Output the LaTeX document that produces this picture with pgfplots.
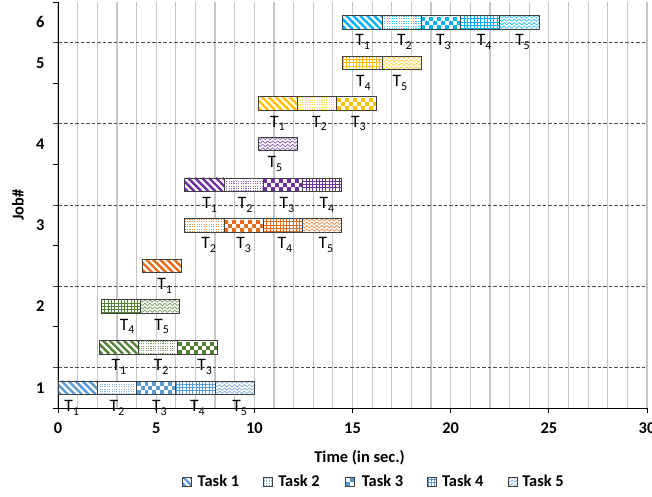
\documentclass[border=0pt]{standalone}
\usepackage{fontspec}
\setmainfont{Carlito}
\usepackage{pgfplots}
\pgfplotsset{compat=1.18}
\usepackage{pgfplotstable}

\definecolor{jobA}{HTML}{5B9BD5}
\definecolor{jobB}{HTML}{548235}
\definecolor{jobC}{HTML}{E36C1B}
\definecolor{jobD}{HTML}{7030A0}
\definecolor{jobE}{HTML}{FFC000}
\definecolor{jobF}{HTML}{00B0F0}
\definecolor{edge}{HTML}{404040}

\newcommand\lblfont{\bfseries\fontsize{16.5}{19}\selectfont}

% box of the current path picture, in canvas coordinates
\newdimen\tqxa \newdimen\tqya \newdimen\tqxb \newdimen\tqyb
\newdimen\tqh \newdimen\tqx \newdimen\tqy \newdimen\tqz
\newcount\tqs
\newcommand\ppbox{\pgftransformreset
  \pgfextractx{\tqxa}{\pgfpointanchor{path picture bounding box}{south west}}%
  \pgfextracty{\tqya}{\pgfpointanchor{path picture bounding box}{south west}}%
  \pgfextractx{\tqxb}{\pgfpointanchor{path picture bounding box}{north east}}%
  \pgfextracty{\tqyb}{\pgfpointanchor{path picture bounding box}{north east}}%
  \tqh=\tqyb \advance\tqh by -\tqya
  \pgfsetdash{}{0pt}\pgfsetbuttcap}

% textures drawn inside the bars (task 1 to task 5)
\newcommand\texA[1]{\ppbox
  \pgfsetcolor{#1}\pgfsetlinewidth{2.4pt}%
  \tqx=\tqxa \advance\tqx by -\tqh \advance\tqx by -4pt
  \loop\ifdim\tqx<\tqxb
    \tqz=\tqx \advance\tqz by \tqh
    \pgfpathmoveto{\pgfqpoint{\tqx}{\tqyb}}\pgfpathlineto{\pgfqpoint{\tqz}{\tqya}}%
    \advance\tqx by 7pt
  \repeat
  \pgfusepath{stroke}}
\newcommand\texB[1]{\ppbox
  \pgfsetcolor{#1!75}\pgfsetlinewidth{1.1pt}\pgfsetdash{{1.1pt}{1.3pt}}{0pt}%
  \tqy=\tqya \advance\tqy by 0.6pt
  \loop\ifdim\tqy<\tqyb
    \pgfpathmoveto{\pgfqpoint{\tqxa}{\tqy}}\pgfpathlineto{\pgfqpoint{\tqxb}{\tqy}}%
    \advance\tqy by 2.4pt
  \repeat
  \pgfusepath{stroke}}
\newcommand\texC[1]{\ppbox
  \pgfsetcolor{#1}\pgfsetlinewidth{4pt}%
  \pgfsetdash{{4pt}{4pt}}{0pt}%
  \tqy=\tqya \advance\tqy by 2pt
  \loop\ifdim\tqy<\tqyb
    \pgfpathmoveto{\pgfqpoint{\tqxa}{\tqy}}\pgfpathlineto{\pgfqpoint{\tqxb}{\tqy}}%
    \advance\tqy by 8pt
  \repeat
  \pgfusepath{stroke}%
  \pgfsetdash{{4pt}{4pt}}{4pt}%
  \tqy=\tqya \advance\tqy by 6pt
  \loop\ifdim\tqy<\tqyb
    \pgfpathmoveto{\pgfqpoint{\tqxa}{\tqy}}\pgfpathlineto{\pgfqpoint{\tqxb}{\tqy}}%
    \advance\tqy by 8pt
  \repeat
  \pgfusepath{stroke}}
\newcommand\texD[1]{\ppbox
  \pgfsetcolor{#1}\pgfsetlinewidth{0.8pt}%
  \tqx=\tqxa \advance\tqx by 0.4pt
  \loop\ifdim\tqx<\tqxb
    \pgfpathmoveto{\pgfqpoint{\tqx}{\tqya}}\pgfpathlineto{\pgfqpoint{\tqx}{\tqyb}}%
    \advance\tqx by 3.3pt
  \repeat
  \tqy=\tqya \advance\tqy by 0.4pt
  \loop\ifdim\tqy<\tqyb
    \pgfpathmoveto{\pgfqpoint{\tqxa}{\tqy}}\pgfpathlineto{\pgfqpoint{\tqxb}{\tqy}}%
    \advance\tqy by 3.3pt
  \repeat
  \pgfusepath{stroke}}
\newcommand\texE[1]{\ppbox
  \pgfsetcolor{#1!80}\pgfsetlinewidth{0.7pt}\pgfsetroundjoin
  \tqy=\tqya \advance\tqy by 0.8pt
  \loop\ifdim\tqy<\tqyb
    {\tqx=\tqxa \advance\tqx by -3pt \tqs=0
     \pgfpathmoveto{\pgfqpoint{\tqx}{\tqy}}%
     \loop\ifdim\tqx<\tqxb
       \advance\tqx by 2.5pt \advance\tqs by 1
       \tqz=\tqy \ifodd\tqs \advance\tqz by 2.4pt \fi
       \pgfpathlineto{\pgfqpoint{\tqx}{\tqz}}%
     \repeat
     \pgfusepath{stroke}}%
    \advance\tqy by 3.4pt
  \repeat}

\tikzset{
  seg/.style={draw=edge, line width=0.7bp, fill=white},
  t1/.style={seg, path picture={\texA{#1}}},
  t2/.style={seg, path picture={\texB{#1}}},
  t3/.style={seg, path picture={\texC{#1}}},
  t4/.style={seg, path picture={\texD{#1}}},
  t5/.style={seg, path picture={\texE{#1}}},
}
\pgfplotsset{
  lsq/.style={legend image code/.code={\path[##1] (0bp,-4.5bp) rectangle (9bp,4.5bp);}},
}

% bar lines of each job: start time and the five task durations
\pgfplotstableread{
row start t1 t2 t3 t4 t5
0 0 2 2 2 2 2
}\jobA
\pgfplotstableread{
row start t1 t2 t3 t4 t5
1 2.1 2 2 2 0 0
2 2.2 0 0 0 2 2
}\jobB
\pgfplotstableread{
row start t1 t2 t3 t4 t5
3 4.3  2 0 0 0 0
4 6.45 0 2 2 2 2
}\jobC
\pgfplotstableread{
row start t1 t2 t3 t4 t5
5 6.45 2 2 2 2 0
6 10.2 0 0 0 0 2
}\jobD
\pgfplotstableread{
row start t1 t2 t3 t4 t5
7 10.2 2 2 2 0 0
8 14.5 0 0 0 2 2
}\jobE
\pgfplotstableread{
row start t1 t2 t3 t4 t5
9 14.5 2 2 2 2 2
}\jobF

% task labels under the bars
\pgfplotstableread{
x row task
0.7 0 1
3.0 0 2
5.17 0 3
7.1 0 4
9.25 0 5
3.1 1 1
5.26 1 2
7.47 1 3
3.52 2 4
5.28 2 5
5.43 3 1
7.67 4 2
9.45 4 3
11.56 4 4
13.65 4 5
7.72 5 1
9.53 5 2
11.66 5 3
13.7 5 4
11.05 6 5
11.18 7 1
13.32 7 2
15.3 7 3
15.55 8 4
17.41 8 5
15.52 9 1
17.64 9 2
19.63 9 3
21.7 9 4
23.66 9 5
}\labels

\pgfplotsset{
  base/.style={scale only axis, width=589bp, height=406bp,
    xmin=0, xmax=30, ymin=-0.5, ymax=9.5, clip=false,
    major grid style={draw=none}},
  jobaxis/.style={base, hide axis, xbar stacked, bar width=13.5bp,
    xtick=\empty, ytick=\empty},
}

\newcommand\jobbars[2]{%
  \begin{axis}[jobaxis]
  \addplot[draw=none, fill=none] table[x=start, y=row]{#1};
  \addplot[t1=#2] table[x=t1, y=row]{#1};
  \addplot[t2=#2] table[x=t2, y=row]{#1};
  \addplot[t3=#2] table[x=t3, y=row]{#1};
  \addplot[t4=#2] table[x=t4, y=row]{#1};
  \addplot[t5=#2] table[x=t5, y=row]{#1};
  \end{axis}}

\begin{document}
\begin{tikzpicture}
% frame: grid, ticks, labels, legend
\begin{axis}[
  base,
  axis x line*=bottom, axis y line*=left,
  axis line style={black, line width=0.9bp},
  tick style={black, line width=0.9bp},
  tick align=outside, major tick length=5bp, minor tick length=0pt,
  xtick={0,5,...,30}, minor xtick={0,1,...,30},
  xminorgrids,
  minor grid style={gray!45, line width=1.2bp},
  ytick={-0.5,0.5,...,9.5}, yticklabels={},
  extra y ticks={0,2,4,6,8,9},
  extra y tick labels={1,2,3,4,5,6},
  extra y tick style={tick style={draw=none}},
  /pgf/number format/assume math mode=true,
  ticklabel style={font=\lblfont},
  yticklabel style={xshift=-5bp},
  xticklabel style={yshift=-6bp},
  xlabel={Time (in sec.)}, ylabel={Job\#},
  label style={font=\lblfont},
  xlabel style={at={(axis description cs:0.512,-0.123)}, anchor=center},
  ylabel style={at={(axis description cs:-0.068,0.5)}, anchor=center},
  legend columns=5,
  legend style={draw=none, fill=none, at={(0.534,-0.182)}, anchor=center,
    font=\lblfont, nodes={inner sep=0pt},
    /tikz/every odd column/.append style={column sep=5bp},
    /tikz/every even column/.append style={column sep=24bp}},
]
\coordinate (BL) at (rel axis cs:0,0);
\pgfplotsinvokeforeach{0.5,2.5,4.5,6.5,8.5}{
  \draw[black!70, line width=1bp, dash pattern=on 3.5bp off 2bp] (axis cs:-0.25,#1) -- (axis cs:30,#1);
}
\addlegendimage{lsq, t1=jobA}\addlegendentry{Task 1}
\addlegendimage{lsq, t2=jobA}\addlegendentry{Task 2}
\addlegendimage{lsq, t3=jobA}\addlegendentry{Task 3}
\addlegendimage{lsq, t4=jobA}\addlegendentry{Task 4}
\addlegendimage{lsq, t5=jobA}\addlegendentry{Task 5}
\end{axis}

\jobbars{\jobA}{jobA}
\jobbars{\jobB}{jobB}
\jobbars{\jobC}{jobC}
\jobbars{\jobD}{jobD}
\jobbars{\jobE}{jobE}
\jobbars{\jobF}{jobF}

% labels T1 ... T5
\begin{axis}[base, hide axis, xtick=\empty, ytick=\empty]
\addplot[only marks, mark=text, text mark={},
  point meta=explicit symbolic,
  nodes near coords={T\raisebox{-3.8bp}{\fontsize{12}{12}\selectfont\pgfplotspointmeta}},
  nodes near coords style={font=\fontsize{17.5}{20}\selectfont, anchor=north,
    inner sep=0pt, yshift=-12.3bp, text=black}]
  table[x=x, y=row, meta=task]{\labels};
\end{axis}

\pgfresetboundingbox
\path[use as bounding box] (BL) ++(-58bp,-89bp) rectangle ++(652bp,497bp);
\end{tikzpicture}
\end{document}
